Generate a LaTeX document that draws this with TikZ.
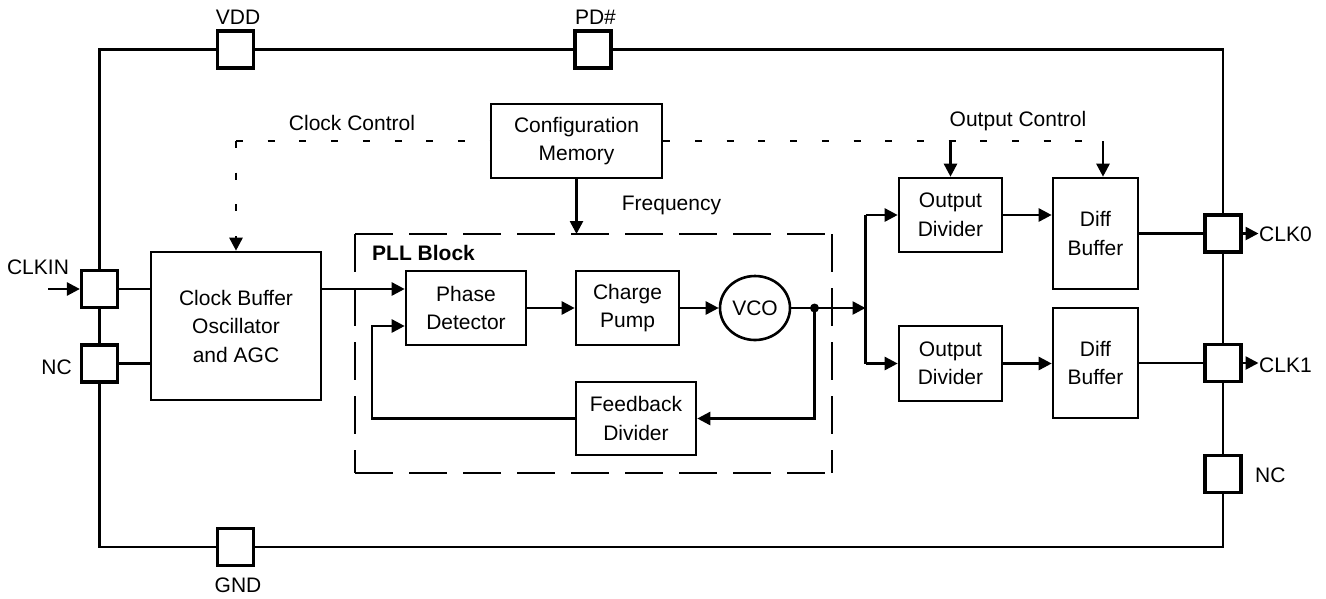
\documentclass[tikz,border=0pt]{standalone}
\usepackage{fontspec}
\setmainfont{Liberation Sans}
\usetikzlibrary{arrows.meta,shapes.geometric}
\begin{document}
\begin{tikzpicture}[x=1pt,y=-1pt,
  every node/.style={font=\fontsize{21}{28.5}\selectfont, inner sep=0pt},
  blk/.style={draw, line width=2.6pt, fill=white, align=center},
  pin/.style={draw, line width=3.2pt, fill=white, minimum width=36pt, minimum height=37pt},
  wire/.style={line width=2.6pt},
  tip/.style={-{Triangle[length=13pt,width=13pt]}},
  arr/.style={wire, tip},
  ctrl/.style={line width=2.6pt, dash pattern=on 7pt off 24.7pt},
  pllline/.style={line width=2.6pt, dash pattern=on 38pt off 16pt},
  lbl/.style={anchor=base}
]
\useasboundingbox (0,0) rectangle (1326,598);

% package outline
\draw[line width=2.3pt] (99.5,49.5) rectangle (1223,547);

% pins
\node[pin] (vdd)   at (235.5,49.5) {};
\node[pin] (pdn)   at (593,49.5) {};
\node[pin] (gnd)   at (235.5,547) {};
\node[pin] (clkin) at (99.5,289) {};
\node[pin] (ncl)   at (99.5,363.5) {};
\node[pin] (clk0)  at (1223,233.5) {};
\node[pin] (clk1)  at (1223,363) {};
\node[pin] (ncr)   at (1223,474) {};

% pin labels
\node[lbl] (tvdd)  at (238,24) {VDD};
\node[lbl] (tpdn)  at (595.5,24) {PD\#};
\node[lbl] (tgnd)  at (238,592) {GND};
\node[lbl] (tclkin) at (38,274) {CLKIN};
\node[lbl, anchor=base east] (tncl) at (72,374) {NC};
\node[lbl, anchor=base west] (tncr) at (1255,482) {NC};
\node[lbl, anchor=base west] (tclk0) at (1259,241) {CLK0};
\node[lbl, anchor=base west] (tclk1) at (1259,372) {CLK1};

% functional blocks
\node[blk, minimum width=170pt, minimum height=148pt] (cbuf) at (236,326) {Clock Buffer\\Oscillator\\and AGC};
\node[blk, minimum width=171pt, minimum height=74pt] (cfg) at (576.5,141) {Configuration\\Memory};
\node[blk, minimum width=120pt, minimum height=74pt] (pd) at (466,308) {Phase\\Detector};
\node[blk, minimum width=103pt, minimum height=74pt] (cp) at (627.5,308) {Charge\\Pump};
\node[blk, ellipse, minimum width=70pt, minimum height=64pt] (vco) at (755,308) {VCO};
\node[blk, minimum width=120pt, minimum height=73pt] (fb) at (636,418.5) {Feedback\\Divider};
\node[blk, minimum width=103pt, minimum height=74pt] (od1) at (950.5,215) {Output\\Divider};
\node[blk, minimum width=85pt, minimum height=111pt] (db1) at (1095.5,233.5) {Diff\\Buffer};
\node[blk, minimum width=103pt, minimum height=75pt] (od2) at (950.5,363.5) {Output\\Divider};
\node[blk, minimum width=85pt, minimum height=110pt] (db2) at (1095.5,363) {Diff\\Buffer};

% PLL block outline
\coordinate (pllnw) at (355,234);
\coordinate (pllse) at (832,473);
\draw[pllline] (pllnw) -- (pllse |- pllnw);
\draw[pllline] (pllnw) -- (pllnw |- pllse);
\draw[pllline] (pllnw |- pllse) -- (pllse);
\draw[pllline] (pllse |- pllnw) -- (pllse);
\node[anchor=base west, font=\fontsize{21}{28.5}\selectfont\bfseries] (tpll) at (372,260) {PLL Block};

% control labels
\node[lbl] (tclkctl) at (352,130) {Clock Control};
\node[lbl] (toutctl) at (1018,126) {Output Control};
\node[lbl] (tfreq)   at (671.5,210) {Frequency};

% control paths from the configuration memory
\coordinate (cc) at (cbuf.north |- cfg.west);
\draw[ctrl] (cc) -- (cfg.west);
\draw[ctrl, tip] (cc) -- (cbuf.north);
\coordinate (oc) at (1103,141);
\draw[ctrl] (cfg.east) -- (oc);
\draw[arr] (od1.north |- cfg.east) -- (od1.north);
\draw[arr] (oc) -- (oc |- db1.north);
\draw[arr] (cfg.south) -- (cfg.south |- pllnw);

% clock input
\coordinate (inl) at (48,289);
\draw[arr] (inl) -- (clkin.west);
\draw[wire] (clkin.east) -- (clkin -| cbuf.west);
\draw[wire] (ncl.east) -- (ncl -| cbuf.west);
\draw[arr] (clkin -| cbuf.east) -- (clkin -| pd.west);

% PLL forward path
\draw[arr] (pd.east) -- (cp.west);
\draw[arr] (cp.east) -- (vco.west);
\coordinate (tap) at (814.5,308);
\coordinate (split) at (865.5,308);
\draw[wire] (vco.east) -- (tap);
\draw[arr] (tap) -- (split);
\fill (tap) circle (4.5pt);

% feedback loop
\coordinate (fbl) at (372,326);
\draw[arr] (tap) |- (fb.east);
\draw[arr] (fb.west) -| (fbl) -- (fbl -| pd.west);

% output paths
\draw[wire] (od1.west -| split) -- (od2.west -| split);
\draw[arr] (od1.west -| split) -- (od1.west);
\draw[arr] (od2.west -| split) -- (od2.west);
\draw[arr] (od1.east) -- (od1.east -| db1.west);
\draw[arr] (od2.east) -- (od2.east -| db2.west);
\draw[wire] (db1.east) -- (clk0.west);
\draw[wire] (db2.east) -- (clk1.west);
\coordinate (o0) at (1258.5,233.5);
\coordinate (o1) at (1258.5,363);
\draw[arr] (clk0.east) -- (o0);
\draw[arr] (clk1.east) -- (o1);
\end{tikzpicture}
\end{document}
